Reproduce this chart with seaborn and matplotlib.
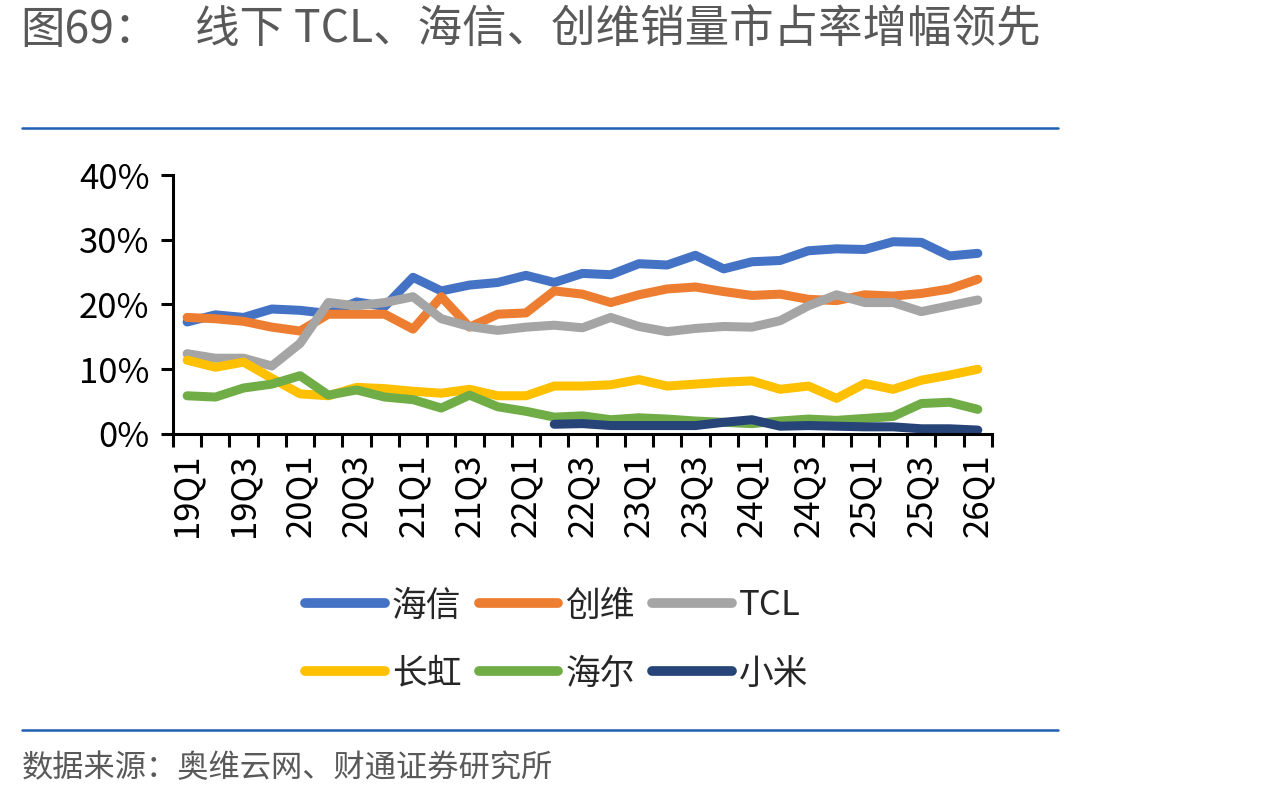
import numpy as np
import pandas as pd
import matplotlib
matplotlib.use("Agg")
import matplotlib.pyplot as plt
import seaborn as sns

# quarters 19Q1 .. 26Q1
quarters = [f"{y}Q{q}" for y in range(19, 26) for q in range(1, 5)] + ["26Q1"]

hisense = [17.3, 18.4, 18.0, 19.3, 19.1, 18.6, 20.4, 19.7, 24.2, 22.1,
           23.0, 23.4, 24.5, 23.4, 24.8, 24.6, 26.3, 26.1, 27.6, 25.5,
           26.6, 26.8, 28.3, 28.6, 28.5, 29.7, 29.6, 27.5, 27.9]
skyworth = [18.0, 17.8, 17.4, 16.5, 15.9, 18.5, 18.5, 18.5, 16.2, 21.2,
            16.5, 18.5, 18.7, 22.1, 21.6, 20.3, 21.5, 22.4, 22.7, 22.0,
            21.4, 21.6, 20.8, 20.6, 21.5, 21.3, 21.7, 22.4, 23.9]
tcl = [12.4, 11.7, 11.7, 10.5, 14.0, 20.3, 19.8, 20.3, 21.2, 17.8,
       16.6, 16.0, 16.5, 16.8, 16.4, 18.0, 16.6, 15.8, 16.3, 16.6,
       16.5, 17.5, 19.8, 21.5, 20.3, 20.3, 18.9, 19.8, 20.7]
changhong = [11.4, 10.3, 11.1, 8.6, 6.2, 5.9, 7.2, 7.0, 6.6, 6.3,
             6.9, 5.9, 5.9, 7.4, 7.4, 7.6, 8.4, 7.4, 7.7, 8.0,
             8.2, 6.9, 7.4, 5.5, 7.8, 6.9, 8.3, 9.1, 10.0]
haier = [5.9, 5.7, 7.1, 7.7, 9.0, 6.0, 6.8, 5.7, 5.3, 4.0,
         6.0, 4.2, 3.5, 2.6, 2.8, 2.2, 2.5, 2.3, 2.0, 1.8,
         1.6, 2.0, 2.3, 2.1, 2.4, 2.7, 4.7, 4.9, 3.8]
xiaomi = [np.nan] * 13 + [1.5, 1.6, 1.3, 1.3, 1.3, 1.3, 1.8,
                          2.2, 1.2, 1.3, 1.2, 1.1, 1.1, 0.8, 0.8, 0.6]

brands = ["海信", "创维", "TCL", "长虹", "海尔", "小米"]
colors = ["#4472C4", "#ED7D31", "#A5A5A5", "#FFC000", "#70AD47", "#264478"]

series = dict(zip(brands, [hisense, skyworth, tcl, changhong, haier, xiaomi]))
rows = []
for name, vals in series.items():
    for i, v in enumerate(vals):
        rows.append({"idx": i, "share": v / 100, "brand": name})
df = pd.DataFrame(rows).dropna()

sns.set_style("ticks")
plt.rcParams['font.family'] = ['Noto Sans CJK SC', 'DejaVu Sans']

fig = plt.figure(figsize=(12.74, 7.97), dpi=100)
ax = fig.add_axes([0.1358, 0.4555, 0.6428, 0.3249])

sns.lineplot(data=df, x="idx", y="share", hue="brand", hue_order=brands,
             palette=colors, linewidth=6.5, solid_capstyle="round", ax=ax,
             legend=True)

ax.set_xlim(-0.5, len(quarters) - 0.5)
ax.set_ylim(0, 0.4)
ax.set_yticks([0, 0.1, 0.2, 0.3, 0.4])
ax.set_yticklabels([f"{int(v*100)}%" for v in [0, 0.1, 0.2, 0.3, 0.4]])
ax.set_xticks(range(0, len(quarters), 2))
ax.set_xticklabels(quarters[::2], rotation=90)
ax.set_xticks(np.arange(-0.5, len(quarters), 1), minor=True)
ax.tick_params(axis="x", which="major", length=0, labelsize=25, pad=14, colors="black")
ax.tick_params(axis="x", which="minor", length=9, width=2.2, direction="out", color="black")
ax.tick_params(axis="y", length=9, width=2.2, labelsize=25, pad=8, colors="black")
ax.set_xlabel("")
ax.set_ylabel("")
for s in ["top", "right"]:
    ax.spines[s].set_visible(False)
for s in ["left", "bottom"]:
    ax.spines[s].set_linewidth(2.2)
    ax.spines[s].set_color("black")

# legend: 3 per row, rows = 海信 创维 TCL / 长虹 海尔 小米
handles, labels = ax.get_legend_handles_labels()
ax.get_legend().remove()
order = [0, 3, 1, 4, 2, 5]
leg = fig.legend([handles[i] for i in order], [labels[i] for i in order],
                 ncol=3, loc="center", bbox_to_anchor=(0.437, 0.197),
                 frameon=False, fontsize=25, handlelength=2.3,
                 handletextpad=0.2, columnspacing=0.5, labelspacing=0.95)
for line in leg.get_lines():
    line.set_linewidth(7)
    line.set_solid_capstyle("round")

# title, rules and source
fig.text(20 / 1274, 1 - 30 / 797, "图69：", fontsize=32, color="#595959",
         fontweight="medium", va="center", ha="left")
fig.text(195 / 1274, 1 - 30 / 797, "线下 TCL、海信、创维销量市占率增幅领先",
         fontsize=32, color="#595959", fontweight="medium", va="center", ha="left")
fig.add_artist(plt.Line2D([22 / 1274, 1058 / 1274], [1 - 128 / 797] * 2,
                          color="#1F5FB0", linewidth=1.8))
fig.add_artist(plt.Line2D([22 / 1274, 1058 / 1274], [1 - 730 / 797] * 2,
                          color="#1F5FB0", linewidth=1.8))
fig.text(22 / 1274, 1 - 768 / 797, "数据来源：奥维云网、财通证券研究所",
         fontsize=22.5, color="#595959", va="center", ha="left")

fig.savefig("out.png", dpi=100)
